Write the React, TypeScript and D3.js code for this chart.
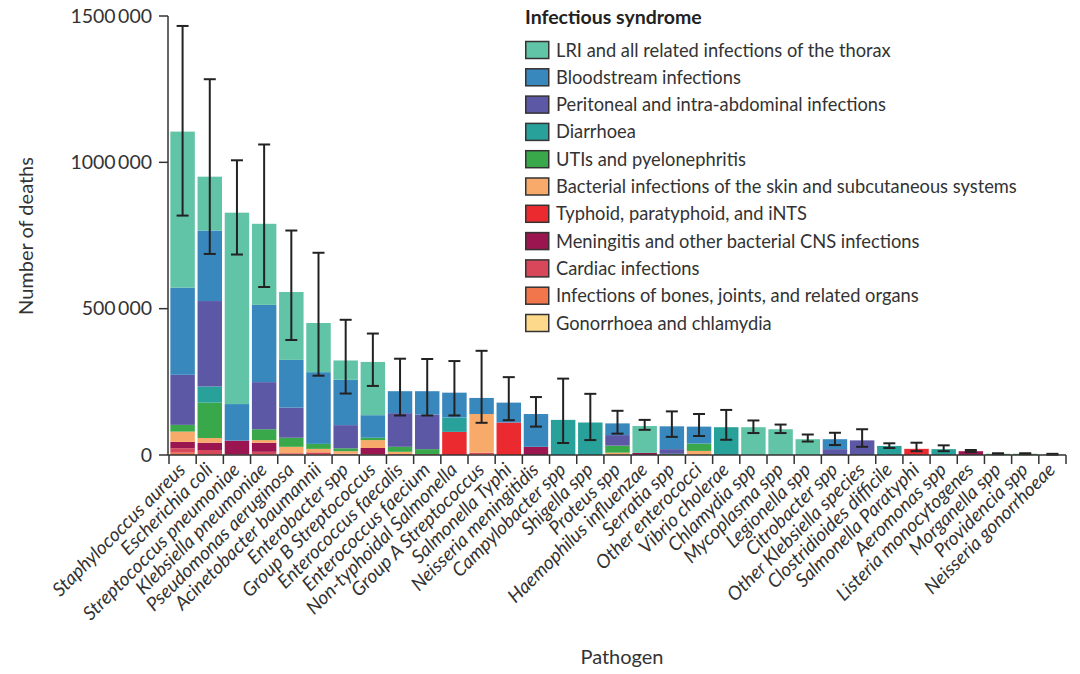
import * as d3 from "d3";

// deaths in thousands, one value per pathogen
const pathogens = [
  "Staphylococcus aureus", "Escherichia coli", "Streptococcus pneumoniae", "Klebsiella pneumoniae",
  "Pseudomonas aeruginosa", "Acinetobacter baumannii", "Enterobacter spp", "Group B Streptococcus",
  "Enterococcus faecalis", "Enterococcus faecium", "Non-typhoidal Salmonella", "Group A Streptococcus",
  "Salmonella Typhi", "Neisseria meningitidis", "Campylobacter spp", "Shigella spp", "Proteus spp",
  "Haemophilus influenzae", "Serratia spp", "Other enterococci", "Vibrio cholerae", "Chlamydia spp",
  "Mycoplasma spp", "Legionella spp", "Citrobacter spp", "Other Klebsiella species",
  "Clostridioides difficile", "Salmonella Paratyphi", "Aeromonas spp", "Listeria monocytogenes",
  "Morganella spp", "Providencia spp", "Neisseria gonorrhoeae",
];

const lri = [533, 184, 654, 277, 232, 168, 66, 182, 0, 0, 0, 0, 0, 0, 0, 0, 0, 92, 0, 0, 0, 95, 88, 54, 0, 0, 0, 0, 0, 0, 0, 0, 0];
const bloodstream = [298, 241, 125, 264, 163, 245, 155, 77, 75, 80, 85, 55, 68, 112, 0, 0, 40, 0, 78, 58, 0, 0, 0, 0, 34, 0, 0, 0, 0, 0, 0, 0, 0];
const peritoneal = [171, 292, 0, 161, 103, 0, 79, 0, 115, 118, 0, 0, 0, 0, 0, 0, 36, 0, 16, 0, 0, 0, 0, 0, 20, 50, 0, 0, 0, 0, 0, 0, 0];
const diarrhoea = [0, 55, 0, 0, 0, 0, 0, 0, 0, 0, 49, 0, 0, 0, 120, 111, 0, 0, 0, 0, 95, 0, 0, 0, 0, 0, 31, 0, 20, 0, 0, 0, 0];
const uti = [23, 121, 0, 37, 31, 17, 10, 8, 17, 17, 0, 0, 0, 0, 0, 0, 24, 0, 4, 25, 0, 0, 0, 0, 0, 0, 0, 0, 0, 0, 4, 4, 0];
const skin = [35, 16, 0, 9, 22, 12, 9, 27, 8, 0, 0, 132, 0, 0, 0, 0, 8, 0, 0, 14, 0, 0, 0, 0, 0, 0, 0, 0, 0, 0, 0, 0, 0];
const typhoid = [0, 0, 0, 0, 0, 0, 0, 0, 0, 0, 79, 0, 111, 0, 0, 0, 0, 0, 0, 0, 0, 0, 0, 0, 0, 0, 0, 21, 0, 0, 0, 0, 0];
const meningitis = [22, 25, 46, 31, 0, 0, 0, 21, 0, 0, 0, 0, 0, 28, 0, 0, 0, 7, 0, 0, 0, 0, 0, 0, 0, 0, 0, 0, 0, 13, 0, 0, 0];
const cardiac = [15, 14, 3, 9, 4, 6, 2, 3, 3, 3, 0, 6, 0, 0, 0, 0, 0, 0, 0, 0, 0, 0, 0, 0, 0, 0, 0, 0, 0, 0, 0, 0, 0];
const bones = [8, 3, 0, 2, 2, 3, 2, 0, 0, 0, 0, 2, 0, 0, 0, 0, 0, 0, 0, 0, 0, 0, 0, 0, 0, 0, 0, 0, 0, 0, 0, 0, 0];
const gonorrhoea = [0, 0, 0, 0, 0, 0, 0, 0, 0, 0, 0, 0, 0, 0, 0, 0, 0, 0, 0, 0, 0, 0, 0, 0, 0, 0, 0, 0, 0, 0, 0, 0, 2];

const upper = [1466, 1284, 1007, 1061, 767, 691, 462, 415, 329, 328, 321, 356, 266, 198, 261, 209, 151, 120, 149, 140, 154, 118, 104, 70, 76, 88, 40, 42, 33, 17, 6, 6, 4];
const lower = [818, 687, 685, 574, 393, 271, 210, 236, 135, 135, 135, 110, 119, 97, 41, 51, 73, 86, 62, 65, 52, 75, 75, 46, 34, 28, 24, 13, 13, 10, 3, 3, 1];

const yTicks = [0, 500, 1000, 1500];
const yTickLabels = ["0", "500\u2009000", "1000\u2009000", "1500\u2009000"];

// legend order (top of stack first)
const syndromes = [
  { key: "LRI and all related infections of the thorax", values: lri, color: "#62c4a6" },
  { key: "Bloodstream infections", values: bloodstream, color: "#3888be" },
  { key: "Peritoneal and intra-abdominal infections", values: peritoneal, color: "#5c58a5" },
  { key: "Diarrhoea", values: diarrhoea, color: "#28a19b" },
  { key: "UTIs and pyelonephritis", values: uti, color: "#38a84a" },
  { key: "Bacterial infections of the skin and subcutaneous systems", values: skin, color: "#f8aa6a" },
  { key: "Typhoid, paratyphoid, and iNTS", values: typhoid, color: "#eb2a2f" },
  { key: "Meningitis and other bacterial CNS infections", values: meningitis, color: "#9b1650" },
  { key: "Cardiac infections", values: cardiac, color: "#d8485a" },
  { key: "Infections of bones, joints, and related organs", values: bones, color: "#f1764c" },
  { key: "Gonorrhoea and chlamydia", values: gonorrhoea, color: "#fcd98b" },
];

const W = 1080;
const H = 674;
const font = "Lato, 'Open Sans', sans-serif";
const ink = "#333";

export default function App() {
  const x = d3.scaleBand<number>().domain(pathogens.map((_, i) => i)).range([169, 1066]).paddingInner(0.1).paddingOuter(0.05);
  const y = d3.scaleLinear().domain([0, 1500]).range([455, 16]);

  const rows = pathogens.map((_, i) => {
    const r: Record<string, number> = { i };
    syndromes.forEach((s) => (r[s.key] = s.values[i]));
    return r;
  });
  const keys = syndromes.map((s) => s.key).reverse();
  const series = d3.stack<Record<string, number>>().keys(keys)(rows);
  const color = d3.scaleOrdinal<string, string>().domain(syndromes.map((s) => s.key)).range(syndromes.map((s) => s.color));

  const bw = x.bandwidth();
  const ticksX = d3.range(pathogens.length + 1).map((i) => x.range()[0] + x.step() * i);

  return (
    <>
      <style>{`body{margin:0}`}</style>
      <svg width={W} height={H} style={{ display: "block", background: "#fff" }} fontFamily={font}>
        {series.map((s) => (
          <g key={s.key} fill={color(s.key)}>
            {s.map((d, i) =>
              d[1] - d[0] > 0 ? (
                <rect key={i} x={x(i)} y={y(d[1])} width={bw} height={y(d[0]) - y(d[1])} />
              ) : null
            )}
          </g>
        ))}

        {/* uncertainty intervals */}
        <g stroke="#222" strokeWidth={2}>
          {pathogens.map((_, i) => {
            const cx = (x(i) ?? 0) + bw / 2;
            return (
              <g key={i}>
                <line x1={cx} x2={cx} y1={y(upper[i])} y2={y(lower[i])} />
                <line x1={cx - 6} x2={cx + 6} y1={y(upper[i])} y2={y(upper[i])} />
                <line x1={cx - 6} x2={cx + 6} y1={y(lower[i])} y2={y(lower[i])} />
              </g>
            );
          })}
        </g>

        {/* y axis */}
        <g stroke={ink} strokeWidth={1.5}>
          <line x1={168} x2={168} y1={y(1500)} y2={y(0)} />
          {yTicks.map((t) => (
            <line key={t} x1={159} x2={168} y1={y(t)} y2={y(t)} />
          ))}
        </g>
        {yTicks.map((t, i) => (
          <text key={t} x={152} y={y(t)} dy="0.35em" textAnchor="end" fontSize={19.5} fill={ink}>
            {yTickLabels[i]}
          </text>
        ))}
        <text transform={`translate(33,236) rotate(-90)`} textAnchor="middle" fontSize={20} fill={ink}>
          Number of deaths
        </text>

        {/* x axis */}
        <g stroke={ink} strokeWidth={1.5}>
          <line x1={168} x2={ticksX[ticksX.length - 1]} y1={455} y2={455} />
          {ticksX.map((t, i) => (
            <line key={i} x1={t} x2={t} y1={455} y2={464} />
          ))}
        </g>
        {pathogens.map((p, i) => (
          <text
            key={p}
            transform={`translate(${(x(i) ?? 0) + bw / 2 + 4},471) rotate(-45)`}
            textAnchor="end"
            fontSize={19}
            fontStyle="italic"
            fill={ink}
          >
            {p}
          </text>
        ))}
        <text x={622} y={664} textAnchor="middle" fontSize={20} fill={ink}>
          Pathogen
        </text>

        {/* legend */}
        <text x={525} y={24} fontSize={19.5} fontWeight="bold" fill="#222">
          Infectious syndrome
        </text>
        {syndromes.map((s, i) => (
          <g key={s.key} transform={`translate(525,${50 + i * 27.3})`}>
            <rect x={0.75} y={-8.5} width={23} height={17} fill={s.color} stroke="#333" strokeWidth={1.5} />
            <text x={31} dy="0.36em" fontSize={18.3} fill={ink}>
              {s.key}
            </text>
          </g>
        ))}
      </svg>
    </>
  );
}
